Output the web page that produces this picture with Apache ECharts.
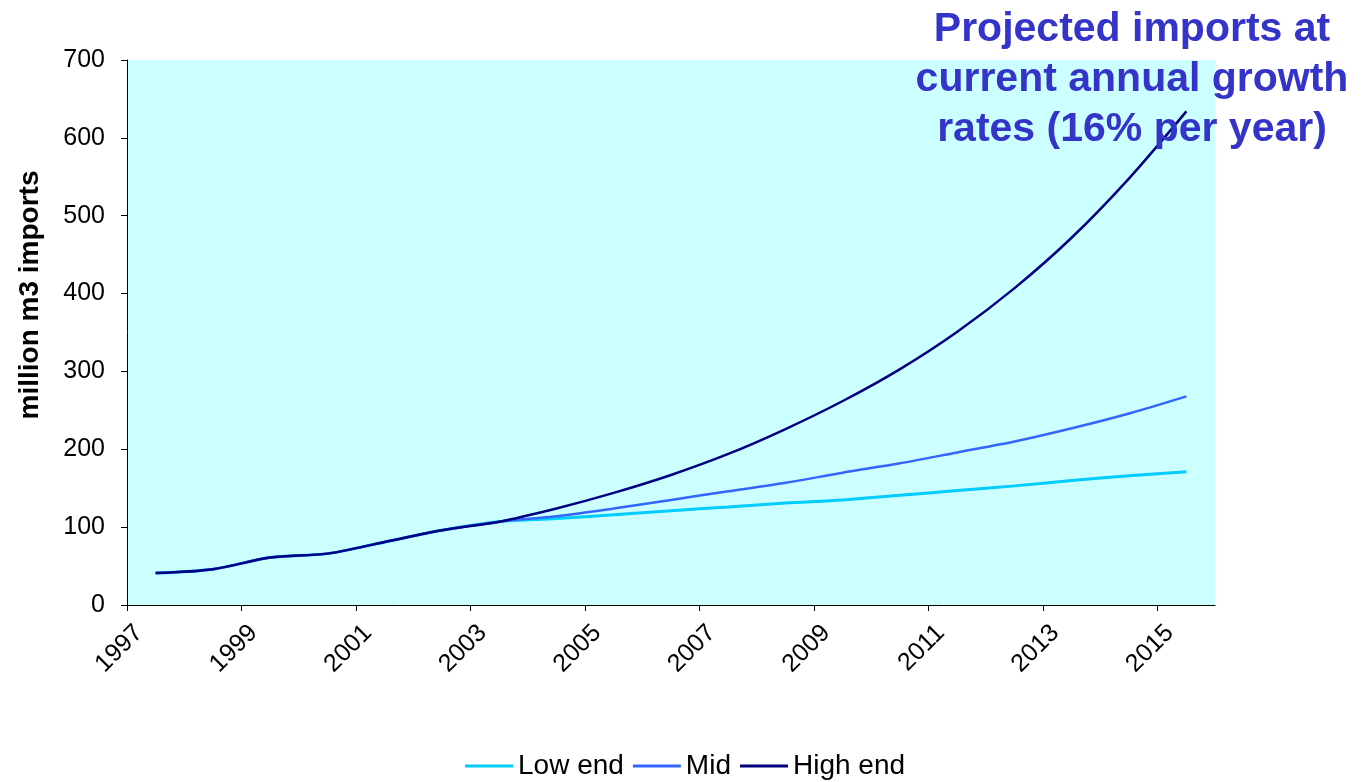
<!DOCTYPE html>
<html>
<head>
<meta charset="utf-8">
<script src="https://cdn.jsdelivr.net/npm/echarts@6/dist/echarts.min.js"></script>
<style>
html,body{margin:0;padding:0;background:#fff;}
#chart{width:1361px;height:782px;}
</style>
</head>
<body>
<div id="chart"></div>
<script>
const years = [1997,1998,1999,2000,2001,2002,2003,2004,2005,2006,2007,2008,2009,2010,2011,2012,2013,2014,2015];
const lowEnd  = [41,46,61,66,81,96,107,111,116,121,126,131,135,141,147,153,160,166,171];
const midVals = [41,46,61,66,81,96,107,114,124,135,146,157,170,182,196,210,227,246,268];
const highEnd = [41,46,61,66,81,96,107,124,144,167,194,226,262,303,351,407,472,548,634];
const tickYears = [1997,1999,2001,2003,2005,2007,2009,2011,2013,2015];
const titleText = 'Projected imports at\ncurrent annual growth\nrates (16% per year)';
const yName = 'million m3 imports';

const toPts = vals => years.map((y, i) => [y + 0.5, vals[i]]);
// rotated labels sit slightly right of their tick, as in the reference
const labelPos = tickYears.map(y => y + 0.21);

const chart = echarts.init(document.getElementById('chart'));
const font = '"Liberation Sans", Arial, sans-serif';
chart.setOption({
  animation: false,
  textStyle: {fontFamily: font},
  grid: {left: 127, right: 146, top: 60, bottom: 177, show: true, backgroundColor: '#CCFFFF', borderWidth: 0},
  xAxis: {
    type: 'value', min: 1997, max: 2016,
    axisLine: {show: true, onZero: false, lineStyle: {color: '#000', width: 1}},
    axisTick: {show: true, inside: false, length: 6, customValues: tickYears, lineStyle: {color: '#000'}},
    axisLabel: {customValues: labelPos, rotate: 45, fontSize: 25, color: '#000', margin: 24, fontFamily: font,
                formatter: v => String(Math.floor(v))},
    splitLine: {show: false}
  },
  yAxis: {
    type: 'value', min: 0, max: 700, interval: 100,
    axisLine: {show: true, lineStyle: {color: '#000', width: 1}},
    axisTick: {show: true, inside: false, length: 6, lineStyle: {color: '#000'}},
    axisLabel: {fontSize: 25, color: '#000', margin: 22, fontFamily: font},
    splitLine: {show: false}
  },
  legend: {
    left: 460, top: 747, itemWidth: 48, itemHeight: 3, itemGap: 9, icon: 'rect',
    textStyle: {fontSize: 28, color: '#000', fontFamily: font},
    data: ['Low end', 'Mid', 'High end']
  },
  series: [
    {name: 'Low end', type: 'line', data: toPts(lowEnd), smooth: 0.3, showSymbol: false,
     lineStyle: {color: '#00CCFF', width: 3}, itemStyle: {color: '#00CCFF'}, z: 3},
    {name: 'Mid', type: 'line', data: toPts(midVals), smooth: 0.3, showSymbol: false,
     lineStyle: {color: '#3366FF', width: 2.5}, itemStyle: {color: '#3366FF'}, z: 4},
    {name: 'High end', type: 'line', data: toPts(highEnd), smooth: 0.3, showSymbol: false,
     lineStyle: {color: '#000080', width: 2.5}, itemStyle: {color: '#000080'}, z: 5}
  ],
  graphic: [
    {type: 'text', z: 100, x: 1132, y: 5,
     style: {text: titleText, textAlign: 'center', textVerticalAlign: 'top',
             font: 'bold 41px ' + font, lineHeight: 50, fill: '#3434C8'}},
    {type: 'text', z: 100, rotation: Math.PI / 2, x: 30, y: 295,
     style: {text: yName, textAlign: 'center', textVerticalAlign: 'middle',
             font: 'bold 28px ' + font, fill: '#000'}}
  ]
});
</script>
</body>
</html>
